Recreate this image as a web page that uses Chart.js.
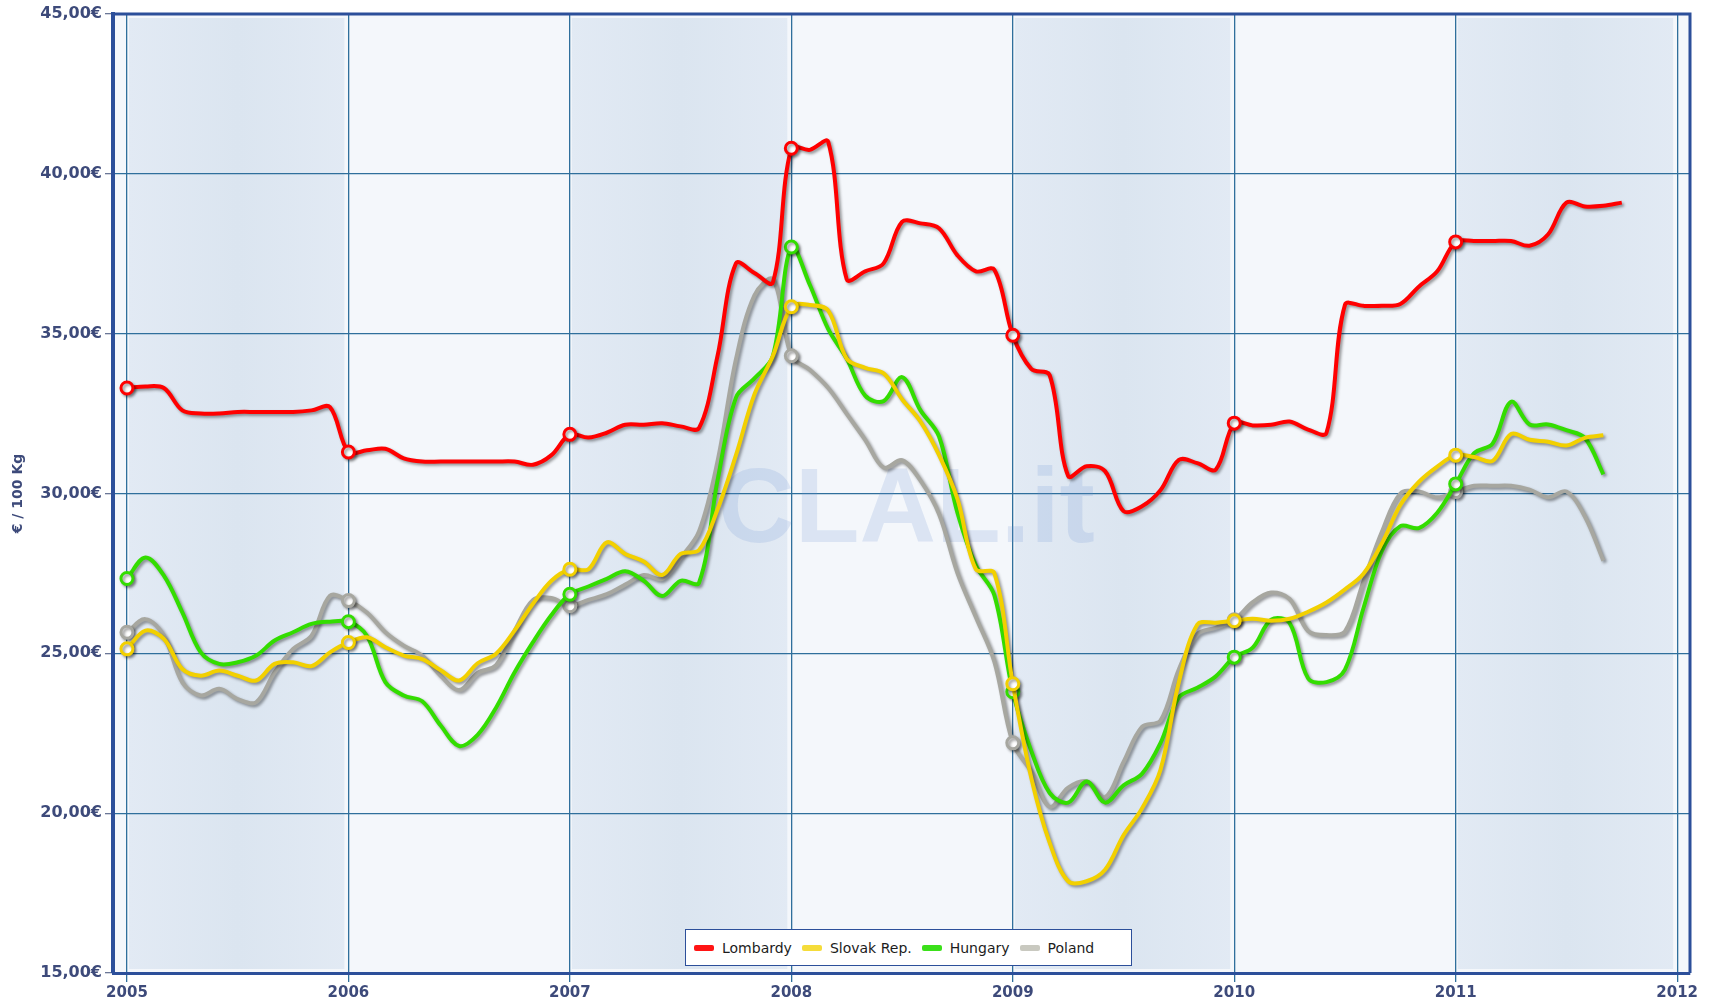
<!DOCTYPE html>
<html>
<head>
<meta charset="utf-8">
<title>Milk prices</title>
<script src="https://cdn.jsdelivr.net/npm/chart.js@4.4.1/dist/chart.umd.min.js"></script>
<style>
    html, body { margin: 0; padding: 0; background: #ffffff; }
    #wrap { position: relative; width: 1719px; height: 1007px; }
    #legend {
        position: absolute; left: 685px; top: 929px; width: 447px; height: 37px;
        box-sizing: border-box; background: #ffffff; border: 1px solid #2c4f9a;
        display: flex; align-items: center; padding-left: 8px;
        font-family: "DejaVu Sans", Verdana, sans-serif; font-size: 14px; color: #1c1c1c;
    }
    .item { display: flex; align-items: center; margin-right: 10px; }
    .sw { width: 20px; height: 6px; border-radius: 2px; margin-right: 8px; }
</style>
</head>
<body>
<div id="wrap">
    <canvas id="chart" width="1719" height="1007"></canvas>
    <div id="legend"></div>
</div>
<script>
// Monthly prices, € / 100 Kg, starting January 2005
const startYear = 2005;
const years = [2005, 2006, 2007, 2008, 2009, 2010, 2011, 2012];
const yTicks = [15, 20, 25, 30, 35, 40, 45];

const lombardy = [
    33.3, 33.35, 33.3, 32.6, 32.5, 32.5, 32.55, 32.55, 32.55, 32.55, 32.6, 32.7,
    31.3, 31.35, 31.4, 31.1, 31.0, 31.0, 31.0, 31.0, 31.0, 31.0, 30.9, 31.2,
    31.85, 31.75, 31.9, 32.15, 32.15, 32.2, 32.1, 32.05, 34.3, 37.2, 36.9, 36.6,
    40.8, 40.75, 41.0, 36.7, 36.95, 37.2, 38.5, 38.45, 38.3, 37.45, 36.95, 37.0,
    34.95, 33.9, 33.7, 30.55, 30.85, 30.7, 29.45, 29.6, 30.1, 31.05, 30.95, 30.75,
    32.2, 32.13, 32.15, 32.25, 32.0, 31.9, 35.9, 35.87, 35.87, 35.93, 36.47, 36.95,
    37.87, 37.9, 37.9, 37.9, 37.75, 38.1, 39.1, 38.98, 39.0, 39.1
];
const slovak = [
    25.14, 25.71, 25.45, 24.51, 24.3, 24.46, 24.3, 24.15, 24.67, 24.72, 24.6, 25.03,
    25.34, 25.5, 25.19, 24.93, 24.82, 24.47, 24.15, 24.69, 24.99, 25.71, 26.55, 27.27,
    27.63, 27.63, 28.47, 28.11, 27.87, 27.45, 28.11, 28.23, 29.5, 31.2, 33.1, 34.3,
    35.84, 35.9, 35.72, 34.22, 33.93, 33.76, 32.95, 32.25, 31.21, 29.83, 27.63, 27.51,
    24.05, 21.11, 19.07, 17.87, 17.87, 18.23, 19.31, 20.15, 21.35, 24.1, 25.9, 25.96,
    26.02, 26.08, 26.02, 26.08, 26.3, 26.59, 27.0, 27.49, 28.44, 29.64, 30.36, 30.84,
    31.2, 31.14, 31.02, 31.86, 31.68, 31.62, 31.5, 31.74, 31.82
];
const hungary = [
    27.34, 28.0, 27.43, 26.28, 25.03, 24.67, 24.72, 24.93, 25.4, 25.66, 25.92, 25.99,
    25.99, 25.55, 24.1, 23.68, 23.5, 22.74, 22.1, 22.45, 23.3, 24.4, 25.35, 26.2,
    26.85, 27.09, 27.33, 27.57, 27.27, 26.79, 27.27, 27.21, 30.4, 33.0, 33.6, 34.3,
    37.71, 36.53, 35.14, 34.22, 33.06, 32.89, 33.64, 32.6, 31.79, 29.4, 27.75, 26.82,
    23.8, 21.95, 20.63, 20.33, 20.99, 20.33, 20.87, 21.23, 22.19, 23.62, 23.92, 24.28,
    24.88, 25.18, 26.05, 25.95, 24.22, 24.1, 24.49, 26.41, 28.2, 28.98, 28.92, 29.4,
    30.3, 31.26, 31.56, 32.87, 32.16, 32.16, 31.98, 31.74, 30.6
];
const poland = [
    25.66, 26.07, 25.55, 24.09, 23.68, 23.89, 23.57, 23.47, 24.41, 25.14, 25.55, 26.8,
    26.65, 26.28, 25.66, 25.24, 24.93, 24.3, 23.85, 24.39, 24.63, 25.71, 26.67, 26.73,
    26.49, 26.67, 26.85, 27.15, 27.45, 27.33, 27.99, 28.82, 31.0, 34.2, 36.2, 36.7,
    34.31, 33.87, 33.3, 32.49, 31.68, 30.81, 31.04, 30.4, 29.36, 27.51, 26.13, 24.74,
    22.2, 21.3, 20.2, 20.8, 21.0, 20.5, 21.6, 22.7, 22.9, 24.5, 25.6, 25.8,
    26.05, 26.6, 26.9, 26.7, 25.7, 25.57, 25.69, 27.25, 28.8, 30.0, 30.06, 29.88,
    30.06, 30.24, 30.24, 30.24, 30.12, 29.88, 30.06, 29.28, 27.9
];

const navy = '#2c4f9a';
const gridBlue = '#2f6f9c';
const labelColor = '#3d4a7a';

function toPoints(values) {
    return values.map((v, i) => ({ x: startYear + i / 12, y: v }));
}

function makeDataset(label, values, color) {
    return {
        label: label,
        data: toPoints(values),
        borderColor: color,
        borderWidth: 4,
        tension: 0.35,
        fill: false,
        pointRadius: ctx => (ctx.dataIndex % 12 === 0 ? 6 : 0),
        pointBackgroundColor: '#ffffff',
        pointBorderColor: color,
        pointBorderWidth: 3
    };
}

const series = [
    { label: 'Lombardy', values: lombardy, color: '#ff0000', swatch: '#ff1414' },
    { label: 'Slovak Rep.', values: slovak, color: '#f2d000', swatch: '#f5dc3a' },
    { label: 'Hungary', values: hungary, color: '#33dd00', swatch: '#3be01a' },
    { label: 'Poland', values: poland, color: '#a7a7a0', swatch: '#c9c9c0' }
];

// Background bands and watermark, drawn before the grid
const backgroundPlugin = {
    id: 'bands',
    beforeDraw(chart) {
        const { ctx, chartArea, scales } = chart;
        ctx.save();
        ctx.fillStyle = '#f4f7fb';
        ctx.fillRect(chartArea.left, chartArea.top, chartArea.width, chartArea.height);
        for (let i = 0; i < years.length - 1; i += 2) {
            const x0 = scales.x.getPixelForValue(years[i]);
            const x1 = scales.x.getPixelForValue(years[i + 1]);
            const g = ctx.createLinearGradient(x0, 0, x1, 0);
            g.addColorStop(0, '#e2eaf4');
            g.addColorStop(0.5, '#dbe5f0');
            g.addColorStop(1, '#e2eaf4');
            ctx.fillStyle = g;
            ctx.fillRect(x0 + 2, chartArea.top + 4, x1 - x0 - 6, chartArea.height - 8);
        }
        ctx.restore();
    },
    beforeDatasetsDraw(chart) {
        const { ctx, scales } = chart;
        ctx.save();
        ctx.font = 'bold 106px "Liberation Sans", Arial, sans-serif';
        ctx.fillStyle = 'rgba(105, 145, 210, 0.18)';
        ctx.textAlign = 'center';
        ctx.textBaseline = 'middle';
        ctx.fillText('CLAL.it', scales.x.getPixelForValue(2008.52), scales.y.getPixelForValue(29.4));
        ctx.restore();
    },
    afterDraw(chart) {
        const { ctx, chartArea } = chart;
        ctx.save();
        ctx.strokeStyle = navy;
        ctx.lineWidth = 3;
        ctx.beginPath();
        ctx.moveTo(chartArea.left, chartArea.top);
        ctx.lineTo(chartArea.right, chartArea.top);
        ctx.lineTo(chartArea.right, chartArea.bottom);
        ctx.stroke();
        ctx.restore();
    }
};

// Soft drop shadow under each line
const shadowPlugin = {
    id: 'shadow',
    beforeDatasetDraw(chart) {
        const ctx = chart.ctx;
        ctx.save();
        ctx.shadowColor = 'rgba(0, 0, 0, 0.4)';
        ctx.shadowBlur = 3;
        ctx.shadowOffsetX = 2;
        ctx.shadowOffsetY = 2;
    },
    afterDatasetDraw(chart) {
        chart.ctx.restore();
    }
};

const ctx = document.getElementById('chart').getContext('2d');
const chart = new Chart(ctx, {
    type: 'line',
    data: { datasets: series.map(s => makeDataset(s.label, s.values, s.color)) },
    options: {
        responsive: false,
        animation: false,
        devicePixelRatio: 1,
        layout: { padding: { top: 14, right: 29, bottom: 0, left: 0 } },
        plugins: {
            legend: { display: false },
            tooltip: { enabled: false }
        },
        scales: {
            x: {
                type: 'linear',
                min: 2004.937,
                max: 2012.058,
                afterBuildTicks: axis => { axis.ticks = years.map(v => ({ value: v })); },
                afterFit: axis => { axis.height = 34; },
                ticks: {
                    callback: v => String(v),
                    color: labelColor,
                    font: { family: '"DejaVu Sans", Verdana, sans-serif', size: 15, weight: 'bold' },
                    padding: 2,
                    maxRotation: 0
                },
                grid: { color: gridBlue, lineWidth: 1.3, tickLength: 9, tickColor: gridBlue },
                border: { display: true, color: navy, width: 3 }
            },
            y: {
                min: 15,
                max: 45,
                afterBuildTicks: axis => { axis.ticks = yTicks.map(v => ({ value: v })); },
                afterFit: axis => { axis.width = 113; },
                ticks: {
                    callback: v => v.toFixed(2).replace('.', ',') + '€',
                    color: labelColor,
                    font: { family: '"DejaVu Sans", Verdana, sans-serif', size: 16, weight: 'bold' },
                    padding: 3
                },
                grid: { color: gridBlue, lineWidth: 1.3, tickLength: 8, tickColor: '#6b7797' },
                border: { display: true, color: navy, width: 4 },
                title: {
                    display: true,
                    text: '€ / 100 Kg',
                    color: labelColor,
                    font: { family: '"DejaVu Sans", Verdana, sans-serif', size: 14, weight: 'bold' },
                    padding: { top: 10, bottom: 0 }
                }
            }
        }
    },
    plugins: [backgroundPlugin, shadowPlugin]
});

// Legend box inside the plot, bottom centre
const legend = document.getElementById('legend');
series.forEach(s => {
    const item = document.createElement('div');
    item.className = 'item';
    const sw = document.createElement('span');
    sw.className = 'sw';
    sw.style.background = s.swatch;
    const txt = document.createElement('span');
    txt.textContent = s.label;
    item.appendChild(sw);
    item.appendChild(txt);
    legend.appendChild(item);
});
</script>
</body>
</html>
